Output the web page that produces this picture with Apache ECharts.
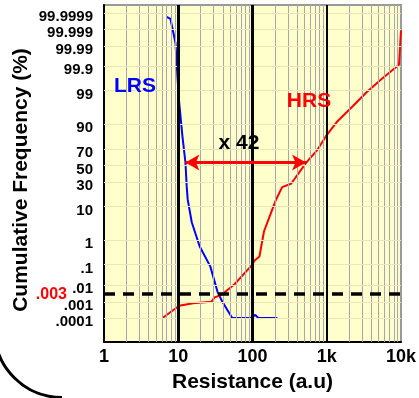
<!DOCTYPE html>
<html>
<head>
<meta charset="utf-8">
<script src="https://cdn.jsdelivr.net/npm/echarts@6/dist/echarts.min.js"></script>
<style>
html, body { margin: 0; padding: 0; background: #fff; }
#chart { width: 419px; height: 398px; }
</style>
</head>
<body>
<div id="chart"></div>
<script>
// probability axis ticks (percent)
const yTickLabels = ['.0001', '.001', '.01', '.1', '1', '10', '30', '50', '70', '90', '99', '99.9', '99.99', '99.999', '99.9999'];
const yTickPercents = [0.0001, 0.001, 0.01, 0.1, 1, 10, 30, 50, 70, 90, 99, 99.9, 99.99, 99.999, 99.9999];
const xTickValues = [1, 10, 100, 1000, 10000];
const xTickLabels = ['1', '10', '100', '1k', '10k'];
const xMinorGrid = [2, 3, 4, 5, 6, 7, 8, 9, 20, 30, 40, 50, 60, 70, 80, 90,
  200, 300, 400, 500, 600, 700, 800, 900, 2000, 3000, 4000, 5000, 6000, 7000, 8000, 9000];
const xMajorGrid = [10, 100, 1000];

// LRS (low resistance state)
const lrsResistance = [6.95, 7.86, 9.17, 10.2, 11.4, 12.5, 13.0, 13.4, 15.2, 19.4, 27.0, 33.9, 39.5, 53.3, 94, 109, 120, 217];
const lrsPercent = [99.99982, 99.99975, 99.9934, 97.98, 81.6, 53.7, 25.7, 14.5, 3.84, 0.594, 0.0835, 0.0040, 0.00104, 0.0001, 0.0001, 0.00016, 0.0001, 0.0001];

// HRS (high resistance state)
const hrsResistance = [6.14, 10.3, 15.8, 27.9, 30.9, 38.0, 57.3, 96, 106, 124, 143, 178, 208, 251, 331, 526, 753, 975, 1396, 2220, 3357, 5336, 9400, 10000];
const hrsPercent = [0.0001, 0.00062, 0.00087, 0.00108, 0.00197, 0.0027, 0.0108, 0.088, 0.148, 0.229, 2.02, 7.09, 14.5, 25.0, 28.5, 53.3, 69.0, 81.9, 91.6, 96.7, 98.80, 99.62, 99.915, 99.99869];

// window annotation
const arrowFrom = 12.5;
const arrowTo = 526;
const arrowPercent = 53.7;
const ratioText = 'x 42';
const limitPercent = 0.003;
const limitText = '.003';

const FONT = '"Liberation Sans", Arial, sans-serif';
const Y_MIN = -5.5, Y_MAX = 5.0;
// tick labels in the source sit a few px below their grid lines
const labelDrop = 4 * (Y_MAX - Y_MIN) / 338;

// inverse normal cdf (Acklam), used for the probability scale
const probit = (p)=>{
    const a = [-3.969683028665376e+01, 2.209460984245205e+02, -2.759285104469687e+02, 1.383577518672690e+02, -3.066479806614716e+01, 2.506628277459239e+00];
    const b = [-5.447609879822406e+01, 1.615858368580409e+02, -1.556989798598866e+02, 6.680131188771972e+01, -1.328068155288572e+01];
    const c = [-7.784894002430293e-03, -3.223964580411365e-01, -2.400758277161838e+00, -2.549732539343734e+00, 4.374664141464968e+00, 2.938163982698783e+00];
    const d = [7.784695709041462e-03, 3.224671290700398e-01, 2.445134137142996e+00, 3.754408661907416e+00];
    const pl = 0.02425;
    let q, r;
    if (p < pl) {
        q = Math.sqrt(-2 * Math.log(p));
        return (((((c[0]*q+c[1])*q+c[2])*q+c[3])*q+c[4])*q+c[5]) / ((((d[0]*q+d[1])*q+d[2])*q+d[3])*q+1);
    }
    if (p <= 1 - pl) {
        q = p - 0.5;
        r = q * q;
        return (((((a[0]*r+a[1])*r+a[2])*r+a[3])*r+a[4])*r+a[5])*q / (((((b[0]*r+b[1])*r+b[2])*r+b[3])*r+b[4])*r+1);
    }
    q = Math.sqrt(-2 * Math.log(1 - p));
    return -(((((c[0]*q+c[1])*q+c[2])*q+c[3])*q+c[4])*q+c[5]) / ((((d[0]*q+d[1])*q+d[2])*q+d[3])*q+1);
};
const z = (pct)=> probit(pct / 100);

const yTickZ = yTickPercents.map(z);
const yLabelZ = yTickZ.map((v)=> v - labelDrop);
const toPairs = (xs, ps)=> xs.map((x, i)=> [x, z(ps[i])]);

let chart = echarts.init(document.getElementById('chart'));

let gridLines = [];
xMinorGrid.forEach((v)=>{
    gridLines.push({ xAxis: v, lineStyle: { color: '#a6a6b2', width: 1, type: 'solid' } });
});
yTickZ.forEach((v)=>{
    gridLines.push({ yAxis: v, lineStyle: { color: '#ebe6b8', width: 1, type: 'solid' } });
});
xMajorGrid.forEach((v, i)=>{
    gridLines.push({ xAxis: v, lineStyle: { color: '#000', width: i < 2 ? 3 : 2, type: 'solid' } });
});

chart.setOption({
    animation: false,
    grid: {
        left: 104, right: 17, top: 5, bottom: 55,
        show: true,
        backgroundColor: '#ffffcc',
        borderColor: '#999',
        borderWidth: 2
    },
    xAxis: {
        type: 'log',
        logBase: 10,
        min: 1,
        max: 10000,
        splitLine: { show: false },
        axisLine: { onZero: false, lineStyle: { color: '#000', width: 2 } },
        axisTick: {
            show: true,
            inside: true,
            length: 5,
            customValues: xMinorGrid,
            lineStyle: { color: '#555', width: 1 }
        },
        axisLabel: {
            color: '#000',
            fontSize: 18,
            fontWeight: 'bold',
            fontFamily: FONT,
            margin: 6,
            customValues: xTickValues,
            formatter: (v)=>{
                const i = xTickValues.findIndex((t)=> Math.abs(t - v) / t < 1e-6);
                return i >= 0 ? xTickLabels[i] : '';
            }
        },
        name: 'Resistance (a.u)',
        nameLocation: 'middle',
        nameGap: 30,
        nameTextStyle: { color: '#000', fontSize: 21, fontWeight: 'bold', fontFamily: FONT }
    },
    yAxis: {
        type: 'value',
        min: Y_MIN,
        max: Y_MAX,
        splitLine: { show: false },
        axisLine: { show: true, onZero: false, lineStyle: { color: '#000', width: 2 } },
        axisTick: { show: false },
        axisLabel: {
            customValues: yLabelZ,
            color: '#000',
            fontSize: 15,
            fontWeight: 'bold',
            fontFamily: FONT,
            margin: 11,
            formatter: (v)=>{
                const i = yLabelZ.findIndex((t)=> Math.abs(t - v) < 1e-6);
                return i >= 0 ? yTickLabels[i] : '';
            }
        }
    },
    series: [
        {
            name: 'grid',
            type: 'line',
            data: [],
            z: 1,
            silent: true,
            markLine: {
                silent: true,
                symbol: ['none', 'none'],
                label: { show: false },
                data: gridLines
            }
        },
        {
            name: 'limit',
            type: 'line',
            data: [],
            z: 2,
            silent: true,
            markLine: {
                silent: true,
                symbol: ['none', 'none'],
                data: [{
                    yAxis: z(limitPercent),
                    lineStyle: { color: '#000', width: 3.5, type: [11, 8] },
                    label: {
                        show: true,
                        position: 'start',
                        distance: 37,
                        formatter: limitText,
                        color: '#ff0000',
                        fontSize: 16,
                        fontWeight: 'bold',
                        fontFamily: FONT
                    }
                }]
            }
        },
        {
            name: 'LRS',
            type: 'line',
            z: 3,
            data: toPairs(lrsResistance, lrsPercent),
            showSymbol: false,
            lineStyle: { color: '#0000ff', width: 2 }
        },
        {
            name: 'HRS',
            type: 'line',
            z: 3,
            data: toPairs(hrsResistance, hrsPercent),
            showSymbol: false,
            lineStyle: { color: '#ff0000', width: 2 }
        },
        {
            name: 'window',
            type: 'line',
            data: [],
            z: 4,
            silent: true,
            markLine: {
                silent: true,
                symbol: ['arrow', 'arrow'],
                symbolSize: [12, 14],
                label: { show: false },
                lineStyle: { color: '#ff0000', width: 3, type: 'solid' },
                data: [[
                    { coord: [arrowFrom, z(arrowPercent)] },
                    { coord: [arrowTo, z(arrowPercent)] }
                ]]
            }
        }
    ],
    graphic: [
        {
            type: 'text', x: 135, y: 86, z: 100,
            style: { text: 'LRS', fill: '#0000ff', font: 'bold 21px ' + FONT, align: 'center', verticalAlign: 'middle' }
        },
        {
            type: 'text', x: 309, y: 101, z: 100,
            style: { text: 'HRS', fill: '#ff0000', font: 'bold 21px ' + FONT, align: 'center', verticalAlign: 'middle' }
        },
        {
            type: 'text', x: 239, y: 143, z: 100,
            style: { text: ratioText, fill: '#000', font: 'bold 21px ' + FONT, align: 'center', verticalAlign: 'middle' }
        },
        {
            type: 'text', x: 21, y: 180, rotation: Math.PI / 2, z: 100,
            style: { text: 'Cumulative Frequency (%)', fill: '#000', font: 'bold 21px ' + FONT, align: 'center', verticalAlign: 'middle' }
        },
        {
            type: 'arc', z: 100,
            shape: { cx: 62, cy: 330, r: 67.5, startAngle: Math.PI / 2, endAngle: Math.PI },
            style: { stroke: '#000', lineWidth: 3, fill: null }
        }
    ]
});
</script>
</body>
</html>
